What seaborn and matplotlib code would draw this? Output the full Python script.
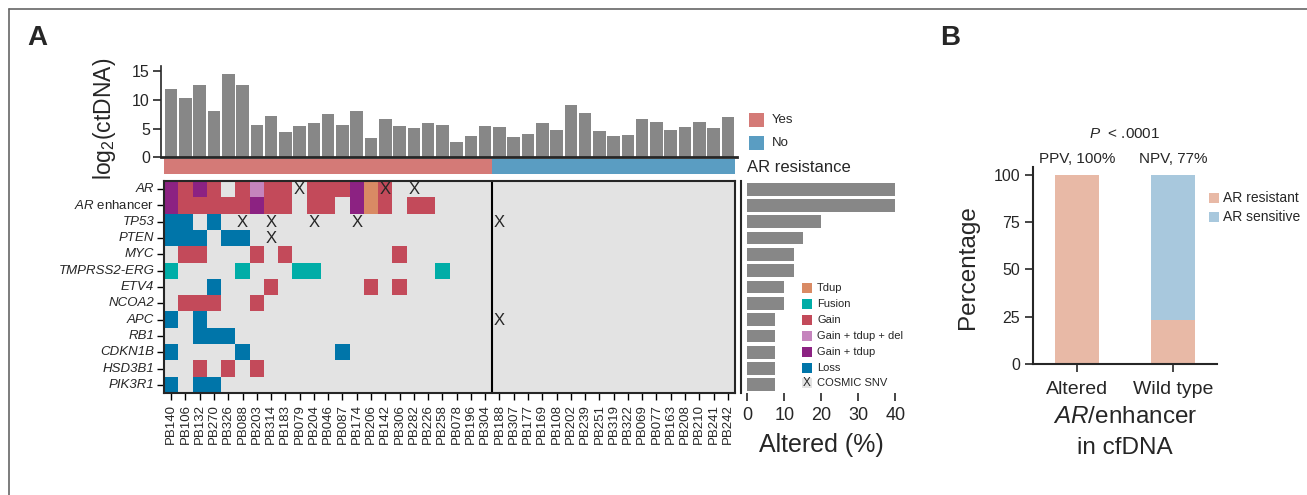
import numpy as np
import matplotlib
matplotlib.use("Agg")
import matplotlib.pyplot as plt
from matplotlib.colors import ListedColormap
from matplotlib.patches import Rectangle
from matplotlib.lines import Line2D
import seaborn as sns

W, H = 1307, 495

# ---- data ----
patients = ["PB140", "PB106", "PB132", "PB270", "PB326", "PB088", "PB203", "PB314", "PB183", "PB079",
            "PB204", "PB046", "PB087", "PB174", "PB206", "PB142", "PB306", "PB282", "PB226", "PB258",
            "PB078", "PB196", "PB304",
            "PB188", "PB307", "PB177", "PB169", "PB108", "PB202", "PB239", "PB251", "PB319", "PB322",
            "PB069", "PB077", "PB163", "PB208", "PB210", "PB241", "PB242"]
ar_resistance = ["Yes"] * 23 + ["No"] * 17
log2_ctdna = [12.0, 10.4, 12.7, 8.1, 14.6, 12.7, 5.7, 7.2, 4.4, 5.5,
              6.0, 7.6, 5.7, 8.1, 3.4, 6.7, 5.5, 5.1, 6.0, 5.7,
              2.7, 3.7, 5.5,
              5.3, 3.6, 4.1, 6.0, 4.8, 9.2, 7.8, 4.6, 3.7, 3.9,
              6.7, 6.2, 4.8, 5.3, 6.2, 5.1, 7.1]

genes = ["AR", "AR enhancer", "TP53", "PTEN", "MYC", "TMPRSS2-ERG", "ETV4", "NCOA2",
         "APC", "RB1", "CDKN1B", "HSD3B1", "PIK3R1"]
# one char per patient, in patient order (rest = no alteration)
# T tdup, F fusion, G gain, D gain+tdup+del, P gain+tdup, L loss
alterations = ["PGPG.GDGG.GGGPTG",
               "PGGGGGPGG.GG.PTG.GG",
               "LL.L",
               "LLL.LL",
               ".GG...G.G.......G",
               "F....F...FF........F",
               "...L...G......G.G",
               ".GGG..G",
               "L.L",
               "..LLL",
               "L....L......L",
               "..G.G.G",
               "L.LL"]
cosmic_snv = {"AR": ["PB079", "PB142", "PB282"],
              "TP53": ["PB088", "PB314", "PB204", "PB174", "PB188"],
              "PTEN": ["PB314"],
              "APC": ["PB188"]}
altered_pct = [40, 40, 20, 15, 12.5, 12.5, 10, 10, 7.5, 7.5, 7.5, 7.5, 7.5]

b_groups = ["Altered", "Wild type"]
b_resistant = [100, 23]
b_sensitive = [0, 77]

# ---- style ----
alt_names = ["Tdup", "Fusion", "Gain", "Gain + tdup + del", "Gain + tdup", "Loss"]
alt_codes = ".TFGDPL"
alt_colors = ["#e3e3e3", "#d98a64", "#00ada7", "#c34a5a", "#c584bd", "#8c2282", "#0075a9"]
yes_color, no_color = "#d47a77", "#5a9dc2"
bar_gray = "#878787"
res_color, sens_color = "#e8b9a6", "#a8c8dd"

sns.set_style("ticks")
plt.rcParams["font.family"] = ["Liberation Sans", "DejaVu Sans"]
plt.rcParams["mathtext.fontset"] = "custom"
plt.rcParams["mathtext.rm"] = "Liberation Sans"
plt.rcParams["mathtext.it"] = "Liberation Sans:italic"
plt.rcParams["mathtext.bf"] = "Liberation Sans:bold"

fig = plt.figure(figsize=(W / 100, H / 100), dpi=100)


def add_ax(x0, y0, x1, y1):
    return fig.add_axes([x0 / W, 1 - y1 / H, (x1 - x0) / W, (y1 - y0) / H])


def ftext(x, y, s, **kw):
    kw.setdefault("va", "center")
    return fig.text(x / W, 1 - y / H, s, **kw)


def fbox(x, y, w, h, color):
    fig.patches.append(Rectangle((x / W, 1 - (y + h) / H), w / W, h / H,
                                 transform=fig.transFigure, color=color, lw=0))


# frame lines of the figure
fig.lines.append(Line2D([9 / W, 1], [1 - 9 / H] * 2, transform=fig.transFigure, color="#666666", lw=1.2))
fig.lines.append(Line2D([9 / W] * 2, [0, 1 - 9 / H], transform=fig.transFigure, color="#666666", lw=1.2))

ftext(27, 38, "A", fontsize=20, fontweight="bold")
ftext(940, 38, "B", fontsize=20, fontweight="bold")

# ---- top: ctDNA bars ----
ax_top = add_ax(161, 65.6, 737, 157.3)
sns.barplot(x=patients, y=log2_ctdna, order=patients, color=bar_gray, saturation=1,
            width=0.88, linewidth=0, ax=ax_top)
ax_top.set_xlim(-0.71, 39.64)
ax_top.set_ylim(0, 16)
ax_top.set_yticks([0, 5, 10, 15])
ax_top.set_xticks([])
ax_top.tick_params(axis="y", labelsize=11.5, length=6, width=1.2, pad=2)
sns.despine(ax=ax_top)
ax_top.spines["left"].set_linewidth(1.2)
ax_top.spines["bottom"].set_linewidth(2)
ax_top.set_ylabel("log$_2$(ctDNA)", fontsize=16.5)
ax_top.yaxis.set_label_coords(-0.075, 0.42)

# ---- AR resistance strip ----
ax_strip = add_ax(164, 159, 735, 174)
strip = np.array([[0 if r == "Yes" else 1 for r in ar_resistance]])
sns.heatmap(strip, ax=ax_strip, cmap=ListedColormap([yes_color, no_color]), vmin=-0.5, vmax=1.5,
            cbar=False, xticklabels=False, yticklabels=False)

fbox(749, 113, 15, 14, yes_color)
fbox(749, 136, 15, 14, no_color)
ftext(772, 120, "Yes", fontsize=9.5)
ftext(772, 143, "No", fontsize=9.5)
ftext(747, 167, "AR resistance", fontsize=12)

# ---- oncoprint heatmap ----
ax_hm = add_ax(164, 181, 735, 393)
mat = np.array([[alt_codes.index(c) for c in s.ljust(len(patients), ".")] for s in alterations])
gene_labels = [r"$\it{AR}$ enhancer" if g == "AR enhancer" else g for g in genes]
sns.heatmap(mat, ax=ax_hm, cmap=ListedColormap(alt_colors), vmin=-0.5, vmax=6.5, cbar=False,
            xticklabels=patients, yticklabels=gene_labels)
ax_hm.tick_params(axis="x", rotation=90, labelsize=9.5, length=5, width=1, color="black", pad=3)
ax_hm.tick_params(axis="y", rotation=0, labelsize=9.5, length=5, width=1, color="black", pad=2)
for lab in ax_hm.get_yticklabels():
    lab.set_fontstyle("normal" if "enhancer" in lab.get_text() else "italic")
for sp in ax_hm.spines.values():
    sp.set_visible(True)
    sp.set_linewidth(1.5)
ax_hm.axvline(23, color="black", lw=1.5)
for gene, pts in cosmic_snv.items():
    for p in pts:
        ax_hm.text(patients.index(p) + 0.5, genes.index(gene) + 0.55, "X",
                   ha="center", va="center", fontsize=12)

# ---- altered % bars ----
ax_alt = add_ax(741, 181, 902.7, 393)
sns.barplot(x=altered_pct, y=genes, order=genes, orient="h", color=bar_gray, saturation=1,
            width=0.78, linewidth=0, ax=ax_alt)
ax_alt.set_ylim(12.5, -0.5)
ax_alt.set_xlim(-1.7, 42)
ax_alt.set_yticks([])
ax_alt.set_ylabel("")
ax_alt.set_xticks([0, 10, 20, 30, 40])
ax_alt.tick_params(axis="x", labelsize=13, length=6, width=1.2, pad=4)
sns.despine(ax=ax_alt, bottom=True)
ax_alt.spines["left"].set_linewidth(1.5)
ax_alt.set_xlabel("Altered (%)", fontsize=18)
ax_alt.xaxis.set_label_coords(0.495, -0.19)

# legend of alteration types
for i, (name, col) in enumerate(zip(alt_names, alt_colors[1:])):
    yc = 287.7 + 16 * i
    fbox(802, yc - 5, 10, 10, col)
    ftext(817, yc, name, fontsize=8)
fbox(802, 383 - 5, 10, 10, alt_colors[0])
ftext(807, 383.5, "X", fontsize=8.5, ha="center")
ftext(817, 383, "COSMIC SNV", fontsize=8)

# ---- panel B ----
ax_b = add_ax(1032.7, 167, 1216.7, 364)
b_total = [r + s for r, s in zip(b_resistant, b_sensitive)]
sns.barplot(x=b_groups, y=b_total, order=b_groups, color=sens_color, saturation=1, width=0.46,
            linewidth=0, ax=ax_b)
sns.barplot(x=b_groups, y=b_resistant, order=b_groups, color=res_color, saturation=1, width=0.46,
            linewidth=0, ax=ax_b)
ax_b.set_xlim(-0.46, 1.455)
ax_b.set_ylim(0, 104)
ax_b.set_yticks([0, 25, 50, 75, 100])
ax_b.tick_params(axis="y", labelsize=11.5, length=6, width=1.2, pad=3)
ax_b.tick_params(axis="x", labelsize=14, length=6, width=1.2, pad=6)
sns.despine(ax=ax_b)
ax_b.spines["left"].set_linewidth(1.5)
ax_b.spines["bottom"].set_linewidth(1.5)
ax_b.set_ylabel("Percentage", fontsize=17.5)
ax_b.yaxis.set_label_coords(-0.29, 0.49)
ax_b.set_xlabel("")

ftext(1125, 134, r"$\it{P}$  < .0001", fontsize=11, ha="center")
ftext(1077, 159, "PPV, 100%", fontsize=11, ha="center")
ftext(1173, 159, "NPV, 77%", fontsize=11, ha="center")
ftext(1125, 417, r"$\it{AR}$/enhancer", fontsize=17.5, ha="center")
ftext(1125, 448, "in cfDNA", fontsize=17.5, ha="center")

fbox(1209, 193, 10, 10, res_color)
fbox(1209, 212, 10, 10, sens_color)
ftext(1223, 198, "AR resistant", fontsize=10)
ftext(1223, 217, "AR sensitive", fontsize=10)

fig.savefig("out.png", dpi=100)
